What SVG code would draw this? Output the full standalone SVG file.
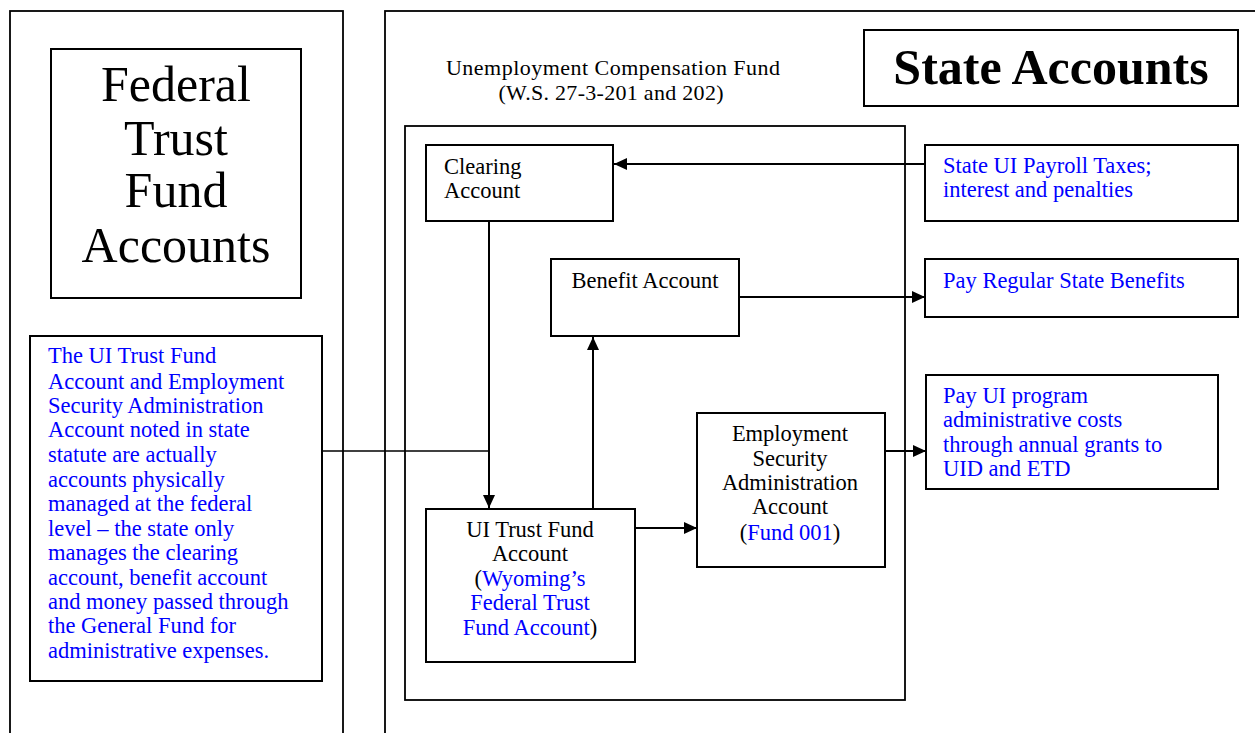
<svg xmlns="http://www.w3.org/2000/svg" width="1255" height="733" viewBox="0 0 1255 733">
<style>
text{font-family:"Liberation Serif","Times New Roman",serif;fill:#000}
.box{fill:#fff;stroke:#000;stroke-width:2}
.panel{fill:none;stroke:#000;stroke-width:1.8}
.t{font-size:22.5px}
.c{text-anchor:middle}
.b{fill:#0000ff}
.con{stroke:#000;stroke-width:2;fill:none}
</style>
<defs>
<marker id="ah" markerUnits="userSpaceOnUse" markerWidth="13" markerHeight="12" refX="13" refY="6" orient="auto">
<path d="M0,0 L13,6 L0,12 z" fill="#000"/>
</marker>
</defs>
<g id="panels">
<rect class="panel" x="10" y="11" width="333" height="740"/>
<rect class="panel" x="385" y="11" width="900" height="740"/>
</g>
<g id="uc-fund">
<rect class="panel" x="405" y="126" width="500" height="574"/>
<text class="c" style="font-size:22px" x="613" y="75" textLength="334">Unemployment Compensation Fund</text>
<text class="c" style="font-size:22px" x="611" y="100" textLength="225">(W.S. 27-3-201 and 202)</text>
</g>
<g id="federal-title">
<rect class="box" x="51" y="49" width="250" height="249"/>
<text class="c" style="font-size:50px" x="176" y="101">Federal</text>
<text class="c" style="font-size:50px" x="176" y="155">Trust</text>
<text class="c" style="font-size:50px" x="176" y="207">Fund</text>
<text class="c" style="font-size:50px" x="176" y="262">Accounts</text>
</g>
<g id="state-title">
<rect class="box" x="864" y="30" width="374" height="76"/>
<text class="c" style="font-size:50px;font-weight:bold" x="1051" y="84">State Accounts</text>
</g>
<g id="note">
<rect class="box" x="30" y="336" width="292" height="345"/>
<text class="t b" x="48" y="363">The UI Trust Fund</text>
<text class="t b" x="48" y="389">Account and Employment</text>
<text class="t b" x="48" y="413">Security Administration</text>
<text class="t b" x="48" y="437">Account noted in state</text>
<text class="t b" x="48" y="462">statute are actually</text>
<text class="t b" x="48" y="487">accounts physically</text>
<text class="t b" x="48" y="511">managed at the federal</text>
<text class="t b" x="48" y="536">level – the state only</text>
<text class="t b" x="48" y="560">manages the clearing</text>
<text class="t b" x="48" y="585">account, benefit account</text>
<text class="t b" x="48" y="609">and money passed through</text>
<text class="t b" x="48" y="633">the General Fund for</text>
<text class="t b" x="48" y="658">administrative expenses.</text>
</g>
<g id="clearing">
<rect class="box" x="426" y="145" width="187" height="76"/>
<text class="t" x="444" y="174">Clearing</text>
<text class="t" x="444" y="198">Account</text>
</g>
<g id="payroll-taxes">
<rect class="box" x="925" y="145" width="313" height="76"/>
<text class="t b" x="943" y="173">State UI Payroll Taxes;</text>
<text class="t b" x="943" y="197">interest and penalties</text>
</g>
<g id="benefit">
<rect class="box" x="551" y="259" width="188" height="77"/>
<text class="t c" x="645" y="288">Benefit Account</text>
</g>
<g id="regular-benefits">
<rect class="box" x="925" y="259" width="313" height="58"/>
<text class="t b" x="943" y="288">Pay Regular State Benefits</text>
</g>
<g id="admin-costs">
<rect class="box" x="926" y="375" width="292" height="114"/>
<text class="t b" x="943" y="403">Pay UI program</text>
<text class="t b" x="943" y="427">administrative costs</text>
<text class="t b" x="943" y="452">through annual grants to</text>
<text class="t b" x="943" y="476">UID and ETD</text>
</g>
<g id="ui-trust">
<rect class="box" x="426" y="509" width="209" height="153"/>
<text class="t c" x="530" y="537">UI Trust Fund</text>
<text class="t c" x="530" y="561">Account</text>
<text class="t c" x="530" y="586">(<tspan class="b">Wyoming’s</tspan></text>
<text class="t c b" x="530" y="610">Federal Trust</text>
<text class="t c" x="530" y="635"><tspan class="b">Fund Account</tspan>)</text>
</g>
<g id="esa">
<rect class="box" x="697" y="413" width="188" height="154"/>
<text class="t c" x="790" y="441">Employment</text>
<text class="t c" x="790" y="466">Security</text>
<text class="t c" x="790" y="490">Administration</text>
<text class="t c" x="790" y="514">Account</text>
<text class="t c" x="790" y="540">(<tspan class="b">Fund 001</tspan>)</text>
</g>
<g id="connectors">
<line class="con" x1="925" y1="164" x2="614" y2="164" marker-end="url(#ah)"/>
<line class="con" x1="739" y1="297" x2="925" y2="297" marker-end="url(#ah)"/>
<line class="con" x1="489" y1="221" x2="489" y2="508" marker-end="url(#ah)"/>
<line class="con" x1="593" y1="509" x2="593" y2="337" marker-end="url(#ah)"/>
<line class="con" x1="635" y1="528" x2="697" y2="528" marker-end="url(#ah)"/>
<line class="con" x1="885" y1="451" x2="926" y2="451" marker-end="url(#ah)"/>
<line class="con" style="stroke-width:1.6" x1="322" y1="451" x2="489" y2="451"/>
</g>
</svg>
